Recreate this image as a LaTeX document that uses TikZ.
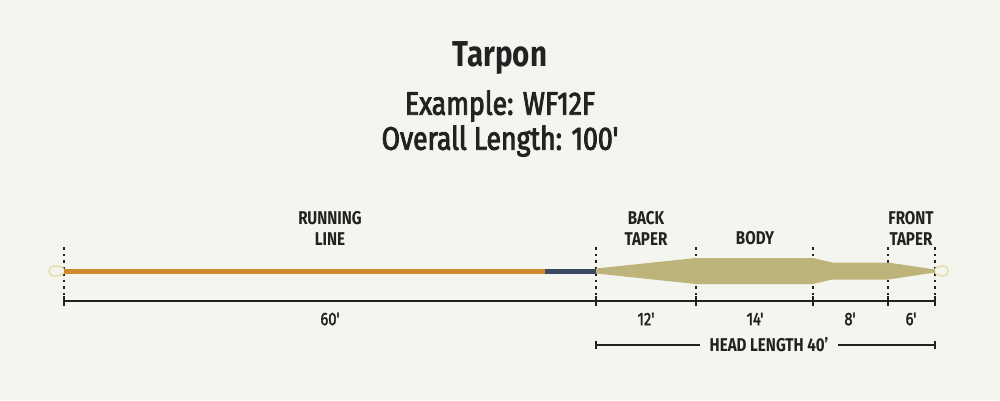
\documentclass[tikz,border=0pt]{standalone}
\usepackage{fontspec}
\setmainfont{Fira Sans}[FakeStretch=0.82]
\newfontfamily\subfont{Fira Sans}[FakeStretch=0.82, FakeBold=2.6]
\newfontfamily\dimfont{Fira Sans}[FakeStretch=0.82, FakeBold=2]
\newcommand{\sq}{{\char"0027}}
\definecolor{bg}{HTML}{F5F5F0}
\definecolor{ink}{HTML}{222222}
\definecolor{runcol}{HTML}{CF8A2C}
\definecolor{navy}{HTML}{3B4A62}
\definecolor{olive}{HTML}{BDB47C}
\definecolor{loopcol}{HTML}{E6E0B0}
\begin{document}
\begin{tikzpicture}[x=1pt,y=-1pt,
  lbl/.style={font=\fontsize{18.5}{21}\selectfont\bfseries, text=ink, align=center, inner sep=0pt},
  dim/.style={font=\dimfont\fontsize{18}{21}\selectfont, text=ink, inner sep=0pt},
  guide/.style={ink, line width=2pt, dash pattern=on 2.5pt off 4pt},
  dimline/.style={ink, line width=1.6pt},
  tick/.style={ink, line width=1.6pt}]
\fill[bg] (0,0) rectangle (1000,400);
\useasboundingbox (0,0) rectangle (1000,400);
% titles
\node[font=\fontsize{36}{40}\selectfont\bfseries, text=ink] (title) at (500,58) {Tarpon};
\node[font=\subfont\fontsize{32.5}{36}\selectfont, text=ink] (ex) at (500,106) {Example: WF12F};
\node[font=\subfont\fontsize{32.5}{36}\selectfont, text=ink] (ov) at (500,141) {Overall Length: 100\sq};
% coordinates
\coordinate (p0) at (64,271);
\coordinate (p1) at (596,271);
\coordinate (p2) at (696,271);
\coordinate (p3) at (813,271);
\coordinate (p4) at (888,271);
\coordinate (p5) at (935,271);
% guides
\foreach \x in {64,596,696,813,888,935}{
  \draw[guide] (\x,247) -- (\x,297);
}
% running line
\coordinate (navyStart) at (545,271);
\draw[runcol, line width=5pt] (p0) -- (navyStart);
\draw[navy, line width=5pt] (navyStart) -- (p1);
% head
\fill[olive] (596,268.5) -- (696,258) -- (813,258) -- (832,262.5) -- (888,262.5) -- (935,269.5)
  -- (935,272.5) -- (888,279.5) -- (832,279.5) -- (813,284) -- (696,284) -- (596,273.5) -- cycle;
% loops
\draw[loopcol, line width=1.6pt] (64,269) .. controls (58,264) and (49,265) .. (49,271) .. controls (49,277) and (58,278) .. (64,273);
\draw[loopcol, line width=1.6pt] (935,269) .. controls (941,264) and (948,265) .. (948,271) .. controls (948,277) and (941,278) .. (935,273);
% section labels
\node[lbl] (rl) at (330,228) {RUNNING\\LINE};
\node[lbl] (bt) at (646,228) {BACK\\TAPER};
\node[lbl] (bd) at (755,238) {BODY};
\node[lbl] (ft) at (911,228) {FRONT\\TAPER};
% dimension line
\draw[dimline] (64,301) -- (935,301);
\foreach \x in {64,596,696,813,888,935}{
  \draw[tick] (\x,296) -- (\x,306);
}
\node[dim] (d60) at (330,319) {60\sq};
\node[dim] (d12) at (646,319) {12\sq};
\node[dim] (d14) at (755,319) {14\sq};
\node[dim] (d8) at (850,319) {8\sq};
\node[dim] (d6) at (911,319) {6\sq};
% head length
\node[lbl, fill=bg, inner xsep=9pt, inner ysep=2pt] (hl) at (769,345) {HEAD LENGTH 40\sq};
\coordinate (hlA) at (596,345);
\coordinate (hlB) at (935,345);
\draw[dimline] (hlA) -- (hl.west);
\draw[dimline] (hl.east) -- (hlB);
\draw[tick] (596,341) -- (596,349);
\draw[tick] (935,341) -- (935,349);
\end{tikzpicture}
\end{document}
